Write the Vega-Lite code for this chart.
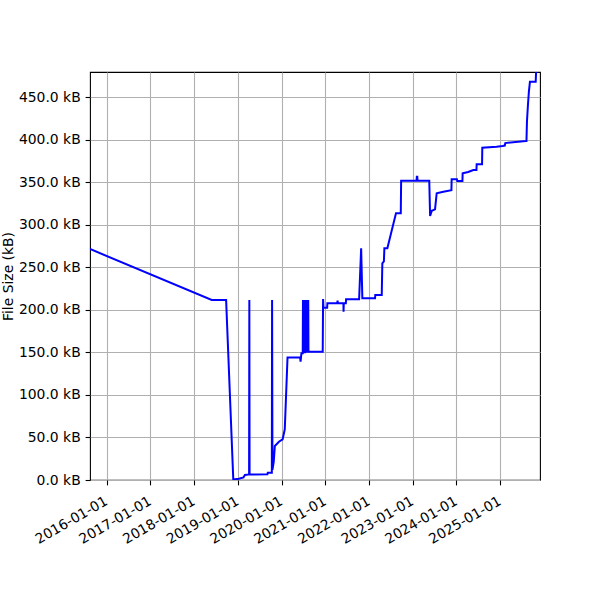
{
  "$schema": "https://vega.github.io/schema/vega-lite/v6.json",
  "width": 450,
  "height": 408,
  "autosize": {"type": "none"},
  "padding": {"left": 90, "top": 72, "right": 60, "bottom": 120},
  "background": "white",
  "config": {
    "font": "DejaVu Sans",
    "view": {"stroke": "black", "strokeWidth": 1.1},
    "axis": {
      "domain": false,
      "grid": true,
      "gridColor": "#b0b0b0",
      "gridWidth": 1.1,
      "gridOpacity": 1,
      "tickColor": "black",
      "tickSize": 4.9,
      "tickWidth": 1.1,
      "labelFontSize": 13.9,
      "labelColor": "black",
      "labelPadding": 4.9,
      "titleFontSize": 13.9,
      "titleFontWeight": "normal",
      "titleColor": "black"
    }
  },
  "data": {
    "values": [
      {"date": "2015-08-15", "size": 271.4},
      {"date": "2018-05-28", "size": 211.5},
      {"date": "2018-09-25", "size": 211.5},
      {"date": "2018-11-24", "size": 0.5},
      {"date": "2019-01-10", "size": 1.5},
      {"date": "2019-02-17", "size": 3},
      {"date": "2019-03-01", "size": 6},
      {"date": "2019-04-05", "size": 6.5},
      {"date": "2019-04-07", "size": 211.5},
      {"date": "2019-04-09", "size": 6.5},
      {"date": "2019-09-05", "size": 6.7},
      {"date": "2019-09-08", "size": 8.6},
      {"date": "2019-10-12", "size": 8.6},
      {"date": "2019-10-14", "size": 211.5},
      {"date": "2019-10-17", "size": 12},
      {"date": "2019-10-28", "size": 21.5},
      {"date": "2019-11-06", "size": 40},
      {"date": "2019-12-10", "size": 45},
      {"date": "2020-01-10", "size": 47.8},
      {"date": "2020-01-28", "size": 59.6},
      {"date": "2020-02-20", "size": 144},
      {"date": "2020-06-04", "size": 144},
      {"date": "2020-06-08", "size": 139},
      {"date": "2020-06-15", "size": 148.9},
      {"date": "2020-06-26", "size": 148.9},
      {"date": "2020-06-28", "size": 211.5},
      {"date": "2020-06-30", "size": 148.9},
      {"date": "2020-07-02", "size": 211.5},
      {"date": "2020-07-04", "size": 148.9},
      {"date": "2020-07-06", "size": 211.5},
      {"date": "2020-07-08", "size": 148.9},
      {"date": "2020-07-10", "size": 211.5},
      {"date": "2020-07-12", "size": 149},
      {"date": "2020-07-14", "size": 211.5},
      {"date": "2020-07-16", "size": 149},
      {"date": "2020-07-18", "size": 211.5},
      {"date": "2020-07-20", "size": 149.5},
      {"date": "2020-07-22", "size": 211.5},
      {"date": "2020-07-24", "size": 149.5},
      {"date": "2020-07-26", "size": 211.5},
      {"date": "2020-07-28", "size": 149.5},
      {"date": "2020-07-30", "size": 211.5},
      {"date": "2020-08-01", "size": 150},
      {"date": "2020-08-03", "size": 211.5},
      {"date": "2020-08-05", "size": 150},
      {"date": "2020-08-07", "size": 211.5},
      {"date": "2020-08-09", "size": 150.5},
      {"date": "2020-08-11", "size": 211.5},
      {"date": "2020-08-13", "size": 150.7},
      {"date": "2020-12-10", "size": 150.7},
      {"date": "2020-12-13", "size": 212.6},
      {"date": "2020-12-16", "size": 202.5},
      {"date": "2021-01-16", "size": 202.5},
      {"date": "2021-01-18", "size": 207.6},
      {"date": "2021-04-10", "size": 207.6},
      {"date": "2021-04-13", "size": 210.7},
      {"date": "2021-04-16", "size": 207.6},
      {"date": "2021-06-01", "size": 207.6},
      {"date": "2021-06-02", "size": 197.8},
      {"date": "2021-06-04", "size": 207.6},
      {"date": "2021-06-21", "size": 207.6},
      {"date": "2021-06-23", "size": 212.3},
      {"date": "2021-10-10", "size": 212.3},
      {"date": "2021-10-27", "size": 272.2},
      {"date": "2021-11-06", "size": 213.5},
      {"date": "2022-02-20", "size": 213.5},
      {"date": "2022-02-22", "size": 217.4},
      {"date": "2022-04-17", "size": 217.4},
      {"date": "2022-04-22", "size": 254.6},
      {"date": "2022-05-05", "size": 257},
      {"date": "2022-05-09", "size": 272.2},
      {"date": "2022-06-03", "size": 272.2},
      {"date": "2022-08-14", "size": 313.3},
      {"date": "2022-09-23", "size": 313.3},
      {"date": "2022-09-26", "size": 351.7},
      {"date": "2023-02-02", "size": 351.7},
      {"date": "2023-02-04", "size": 356.4},
      {"date": "2023-02-08", "size": 356.4},
      {"date": "2023-02-10", "size": 351.7},
      {"date": "2023-05-19", "size": 351.7},
      {"date": "2023-05-26", "size": 310.2},
      {"date": "2023-06-09", "size": 316.4},
      {"date": "2023-07-06", "size": 318},
      {"date": "2023-07-20", "size": 336.9},
      {"date": "2023-09-13", "size": 338.8},
      {"date": "2023-11-20", "size": 340.5},
      {"date": "2023-11-22", "size": 353.3},
      {"date": "2024-01-05", "size": 353.3},
      {"date": "2024-01-08", "size": 351.3},
      {"date": "2024-02-20", "size": 351.3},
      {"date": "2024-02-22", "size": 360.3},
      {"date": "2024-04-08", "size": 361.9},
      {"date": "2024-05-21", "size": 364.2},
      {"date": "2024-06-16", "size": 364.2},
      {"date": "2024-06-18", "size": 370.9},
      {"date": "2024-08-02", "size": 370.9},
      {"date": "2024-08-04", "size": 390.4},
      {"date": "2024-12-01", "size": 391.5},
      {"date": "2025-01-20", "size": 392.5},
      {"date": "2025-02-08", "size": 393},
      {"date": "2025-02-12", "size": 395.9},
      {"date": "2025-08-04", "size": 398.3},
      {"date": "2025-08-08", "size": 398.3},
      {"date": "2025-08-12", "size": 421},
      {"date": "2025-08-20", "size": 440},
      {"date": "2025-08-28", "size": 456},
      {"date": "2025-09-06", "size": 468},
      {"date": "2025-10-24", "size": 468},
      {"date": "2025-11-01", "size": 495}
    ]
  },
  "mark": {"type": "line", "color": "#0000ff", "strokeWidth": 2, "clip": true},
  "encoding": {
    "x": {
      "field": "date",
      "type": "temporal",
      "scale": {
        "type": "utc",
        "domain": [
          {"year": 2015, "month": 8, "date": 15, "utc": true},
          {"year": 2025, "month": 11, "date": 29, "utc": true}
        ]
      },
      "axis": {
        "title": null,
        "format": "%Y-%m-%d",
        "tickCount": {"interval": "year", "step": 1},
        "labelAngle": -30,
        "labelAlign": "right",
        "labelBaseline": "top",
        "labelOverlap": false,
        "labelFlush": false,
        "labelOffset": -4,
        "labelPadding": 9
      }
    },
    "y": {
      "field": "size",
      "type": "quantitative",
      "scale": {"domain": [0, 479.4], "nice": false, "zero": true},
      "axis": {
        "title": "File Size (kB)",
        "values": [0, 50, 100, 150, 200, 250, 300, 350, 400, 450],
        "labelExpr": "format(datum.value, '.1f') + ' kB'",
        "labelOverlap": false,
        "titleX": -82,
        "titleY": 204,
        "titleAngle": -90,
        "titleAlign": "center",
        "titleBaseline": "middle"
      }
    }
  }
}
